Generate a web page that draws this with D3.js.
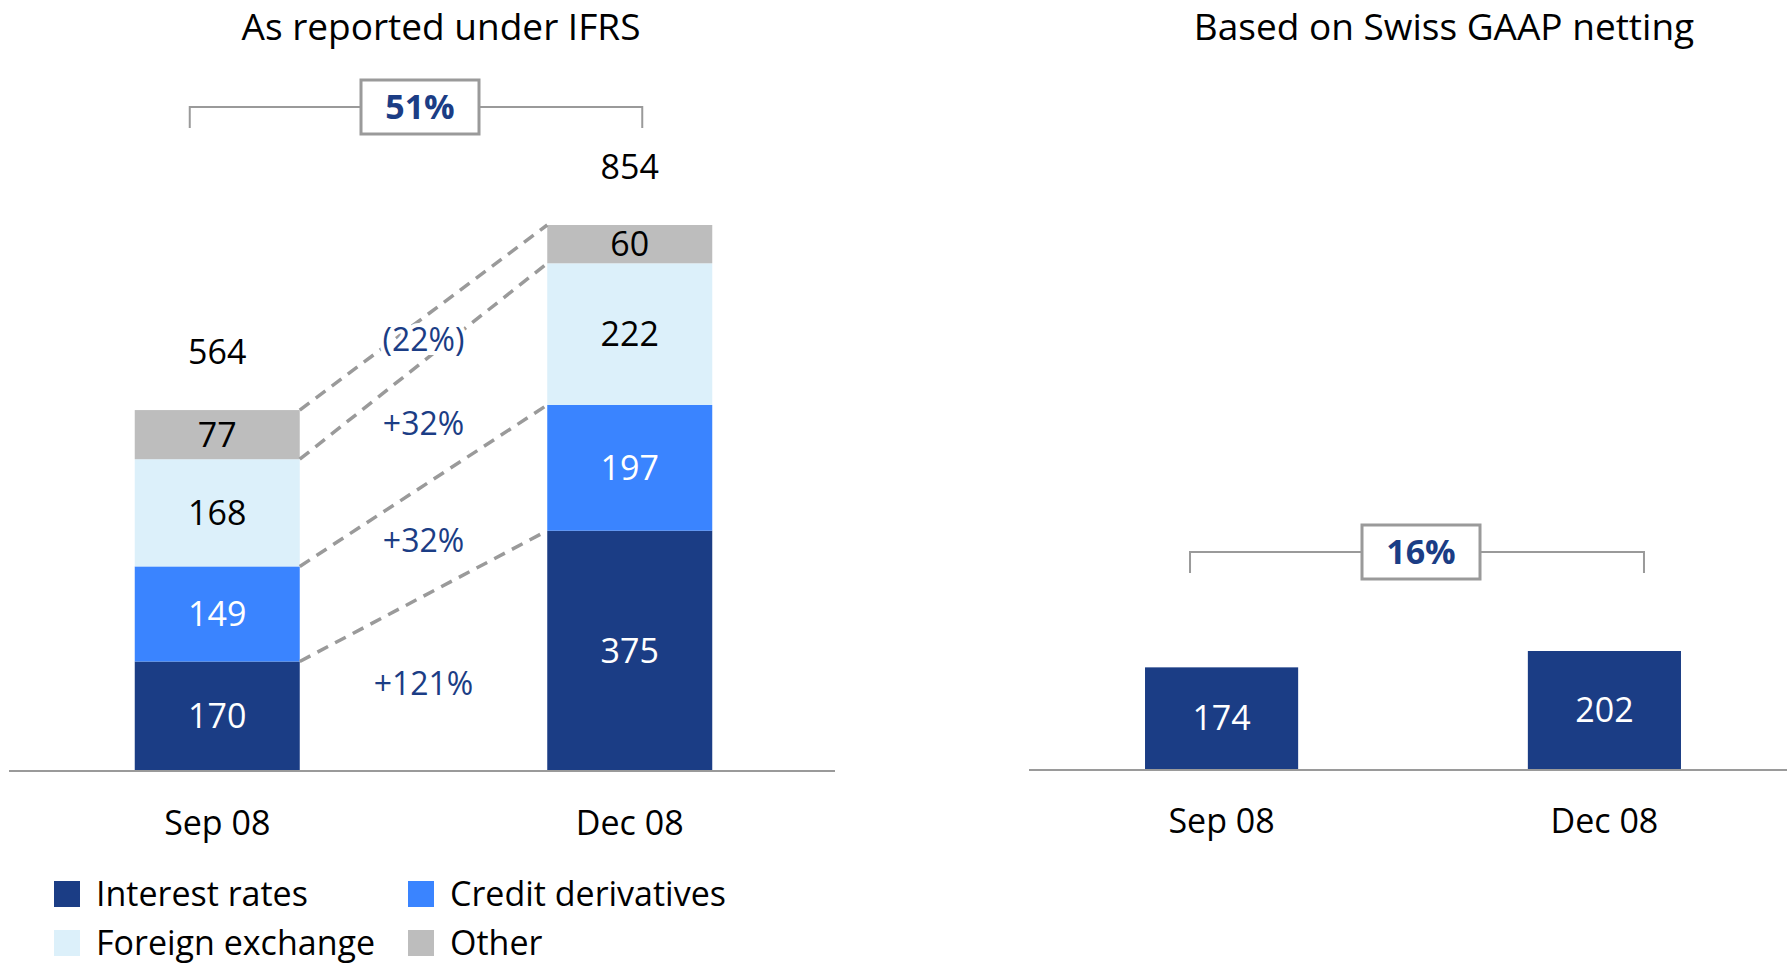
<!DOCTYPE html>
<html>
<head>
<meta charset="utf-8">
<script src="https://cdn.jsdelivr.net/npm/d3@7/dist/d3.min.js"></script>
<style>
  body { margin: 0; background: #fff; }
  svg text { font-family: "Open Sans", "Noto Sans", sans-serif; }
</style>
</head>
<body>
<script>
// data
var categories = ["Sep 08", "Dec 08"];
var seriesNames = ["Interest rates", "Credit derivatives", "Foreign exchange", "Other"];
var interestRates = [170, 375];
var creditDerivatives = [149, 197];
var foreignExchange = [168, 222];
var other = [77, 60];
var totals = [564, 854];
var changeLabels = ["+121%", "+32%", "+32%", "(22%)"];
var swissGaap = [174, 202];
var ifrsGrowth = "51%";
var swissGrowth = "16%";

var colors = ["#1b3d85", "#3a84ff", "#dcf0fa", "#bdbdbd"];
var textColors = ["#fff", "#fff", "#000", "#000"];
var navy = "#1b3d85";
var grey = "#9a9a9a";
var FS = 34;

var W = 1787, H = 967;
var svg = d3.select("body").append("svg").attr("width", W).attr("height", H);

// build stacked rows
var rows = categories.map(function(c, i) {
  return {cat: c, "Interest rates": interestRates[i], "Credit derivatives": creditDerivatives[i],
    "Foreign exchange": foreignExchange[i], "Other": other[i]};
});
var stacked = d3.stack().keys(seriesNames)(rows);

/////////////////////////////////////////////////////////////////
// left panel
var xL = d3.scaleBand().domain(categories).range([11, 836]).paddingInner(0.6).paddingOuter(0.3);
var yL = d3.scaleLinear().domain([0, 854]).range([770, 225]);

svg.append("text").attr("x", 441).attr("y", 40).attr("text-anchor", "middle")
  .attr("font-size", 37).text("As reported under IFRS");

var left = svg.append("g");

left.selectAll("g.layer").data(stacked).enter().append("g")
  .attr("class", "layer")
  .each(function(layer, li) {
    var g = d3.select(this);
    g.selectAll("rect").data(layer).enter().append("rect")
      .attr("x", function(d) { return xL(d.data.cat); })
      .attr("width", xL.bandwidth())
      .attr("y", function(d) { return yL(d[1]); })
      .attr("height", function(d) { return yL(d[0]) - yL(d[1]); })
      .attr("fill", colors[li]);
    g.selectAll("text").data(layer).enter().append("text")
      .attr("x", function(d) { return xL(d.data.cat) + xL.bandwidth() / 2; })
      .attr("y", function(d) { return (yL(d[0]) + yL(d[1])) / 2; })
      .attr("dy", "0.36em")
      .attr("text-anchor", "middle")
      .attr("font-size", FS)
      .attr("fill", textColors[li])
      .text(function(d) { return d[1] - d[0]; });
  });

// connector lines between segment tops
var x0 = xL(categories[0]) + xL.bandwidth(), x1 = xL(categories[1]);
stacked.forEach(function(layer) {
  left.append("line")
    .attr("x1", x0).attr("y1", yL(layer[0][1]))
    .attr("x2", x1).attr("y2", yL(layer[1][1]))
    .attr("stroke", grey).attr("stroke-width", 3.5)
    .attr("stroke-dasharray", "12,8");
});
// change labels sit between the segment centres, with a white halo
stacked.forEach(function(layer, li) {
  var yc = ((yL(layer[0][0]) + yL(layer[0][1])) / 2 + (yL(layer[1][0]) + yL(layer[1][1])) / 2) / 2;
  left.append("text")
    .attr("x", (x0 + x1) / 2).attr("y", yc).attr("dy", "0.36em")
    .attr("text-anchor", "middle").attr("font-size", 32).attr("fill", navy)
    .attr("stroke", "#fff").attr("stroke-width", 8).attr("paint-order", "stroke")
    .text(changeLabels[li]);
});

// totals
left.selectAll("text.total").data(totals).enter().append("text")
  .attr("class", "total")
  .attr("x", function(d, i) { return xL(categories[i]) + xL.bandwidth() / 2; })
  .attr("y", function(d) { return yL(d) - 58; })
  .attr("dy", "0.36em").attr("text-anchor", "middle").attr("font-size", FS)
  .text(function(d) { return d; });

left.append("line").attr("x1", 9).attr("x2", 835).attr("y1", 771).attr("y2", 771)
  .attr("stroke", grey).attr("stroke-width", 2);

left.selectAll("text.cat").data(categories).enter().append("text")
  .attr("class", "cat")
  .attr("x", function(d) { return xL(d) + xL.bandwidth() / 2; })
  .attr("y", 823).attr("dy", "0.36em").attr("text-anchor", "middle").attr("font-size", FS)
  .text(function(d) { return d; });

function bracket(g, xa, xb, y, drop, label, bw, bh) {
  var xm = (xa + xb) / 2;
  g.append("path")
    .attr("d", "M" + xa + "," + (y + drop) + "V" + y + "H" + xb + "V" + (y + drop))
    .attr("fill", "none").attr("stroke", grey).attr("stroke-width", 2);
  g.append("rect").attr("x", xm - bw / 2 + 4).attr("y", y - bh / 2).attr("width", bw).attr("height", bh)
    .attr("fill", "#fff").attr("stroke", grey).attr("stroke-width", 3);
  g.append("text").attr("x", xm + 4).attr("y", y).attr("dy", "0.36em")
    .attr("text-anchor", "middle").attr("font-size", 34).attr("font-weight", "bold")
    .attr("fill", navy).text(label);
}

bracket(left, xL(categories[0]) + 55, xL(categories[1]) + xL.bandwidth() - 70, 107, 21, ifrsGrowth, 118, 54);

// legend
var legend = svg.append("g");
var legPos = [[54, 894], [408, 894], [54, 943], [408, 943]];
seriesNames.forEach(function(name, i) {
  var p = legPos[i];
  legend.append("rect").attr("x", p[0]).attr("y", p[1] - 13).attr("width", 26).attr("height", 26)
    .attr("fill", colors[i]);
  legend.append("text").attr("x", p[0] + 42).attr("y", p[1]).attr("dy", "0.36em")
    .attr("font-size", FS).text(name);
});

/////////////////////////////////////////////////////////////////
// right panel
var xR = d3.scaleBand().domain(categories).range([1034, 1792]).paddingInner(0.6).paddingOuter(0.29);
var yR = d3.scaleLinear().domain([0, 202]).range([769, 651]);

svg.append("text").attr("x", 1444).attr("y", 40).attr("text-anchor", "middle")
  .attr("font-size", 37).text("Based on Swiss GAAP netting");

var right = svg.append("g");
right.selectAll("rect").data(swissGaap).enter().append("rect")
  .attr("x", function(d, i) { return xR(categories[i]); })
  .attr("width", xR.bandwidth())
  .attr("y", function(d) { return yR(d); })
  .attr("height", function(d) { return yR(0) - yR(d); })
  .attr("fill", colors[0]);
right.selectAll("text.val").data(swissGaap).enter().append("text")
  .attr("class", "val")
  .attr("x", function(d, i) { return xR(categories[i]) + xR.bandwidth() / 2; })
  .attr("y", function(d) { return (yR(0) + yR(d)) / 2; })
  .attr("dy", "0.36em").attr("text-anchor", "middle").attr("font-size", FS).attr("fill", "#fff")
  .text(function(d) { return d; });

right.append("line").attr("x1", 1029).attr("x2", 1787).attr("y1", 770).attr("y2", 770)
  .attr("stroke", grey).attr("stroke-width", 2);

right.selectAll("text.cat").data(categories).enter().append("text")
  .attr("class", "cat")
  .attr("x", function(d) { return xR(d) + xR.bandwidth() / 2; })
  .attr("y", 821).attr("dy", "0.36em").attr("text-anchor", "middle").attr("font-size", FS)
  .text(function(d) { return d; });

bracket(right, xR(categories[0]) + 45, xR(categories[1]) + xR.bandwidth() - 37, 552, 21, swissGrowth, 118, 54);
</script>
</body>
</html>
